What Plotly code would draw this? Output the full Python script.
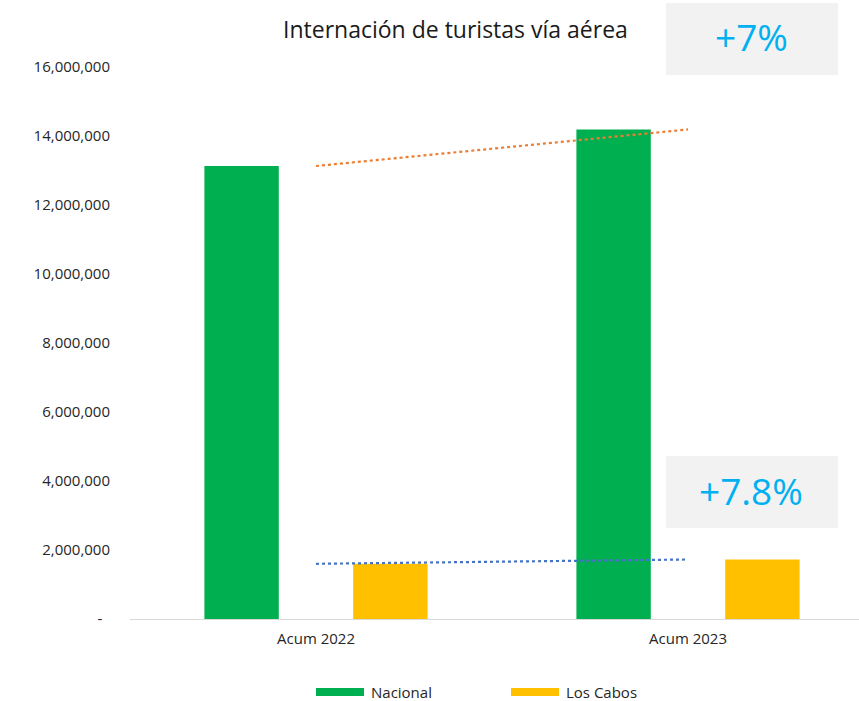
import plotly.graph_objects as go

categories = ["Acum 2022", "Acum 2023"]
nacional = [13130000, 14190000]
los_cabos = [1600000, 1725000]
series_names = ["Nacional", "Los Cabos"]
tick_values = [0, 2000000, 4000000, 6000000, 8000000, 10000000, 12000000, 14000000, 16000000]
tick_labels = ["-\u00a0\u00a0", "2,000,000", "4,000,000", "6,000,000", "8,000,000", "10,000,000",
               "12,000,000", "14,000,000", "16,000,000"]
growth_labels = ["+7%", "+7.8%"]

W, H = 859, 701
L, R, T, B = 130, 0, 67, 82
PW, PH = W - L - R, H - T - B

def px(x):
    return (x - L) / PW

def py(y):
    return (H - B - y) / PH

GREEN = "#00B050"
YELLOW = "#FFC000"
FONT = "Open Sans"
TXT = "#262626"

fig = go.Figure()
fig.add_trace(go.Bar(x=categories, y=nacional, name=series_names[0],
                     marker=dict(color=GREEN, line=dict(width=0)), showlegend=False))
fig.add_trace(go.Bar(x=categories, y=los_cabos, name=series_names[1],
                     marker=dict(color=YELLOW, line=dict(width=0)), showlegend=False))
fig.add_trace(go.Scatter(x=categories, y=nacional, mode="lines", showlegend=False,
                         line=dict(color="#ED7D31", width=2.2, dash="dot"), hoverinfo="skip"))
fig.add_trace(go.Scatter(x=categories, y=los_cabos, mode="lines", showlegend=False,
                         line=dict(color="#4472C4", width=2.2, dash="dot"), hoverinfo="skip"))

cat_w = 372.0
fig.update_layout(
    width=W, height=H,
    margin=dict(l=L, r=R, t=T, b=B, pad=0),
    paper_bgcolor="white", plot_bgcolor="white",
    barmode="group", bargap=0.2, bargroupgap=0.5,
    font=dict(family=FONT, size=15, color=TXT),
    showlegend=False,
    xaxis=dict(type="category", range=[-0.5, -0.5 + PW / cat_w], showgrid=False,
               showline=True, linecolor="#D9D9D9", linewidth=1, ticks="",
               tickfont=dict(size=15, color=TXT), ticklabelstandoff=6, zeroline=False),
    yaxis=dict(range=[0, 16000000], tickvals=tick_values, ticktext=tick_labels,
               showgrid=False, zeroline=False, showline=False, ticks="",
               tickfont=dict(size=15, color=TXT), ticklabelstandoff=19),
)

shapes = []
annotations = []
# title
annotations.append(dict(text="Internación de turistas vía aérea", x=px(455), y=py(29),
                        xref="paper", yref="paper", showarrow=False, xanchor="center",
                        yanchor="middle", font=dict(family=FONT, size=23, color="#1a1a1a")))
# growth boxes
for label, (y0, y1) in zip(growth_labels, [(3, 75), (456, 528)]):
    shapes.append(dict(type="rect", xref="paper", yref="paper", x0=px(666), x1=px(838),
                       y0=py(y1), y1=py(y0), fillcolor="#F2F2F2", line=dict(width=0), layer="below"))
    annotations.append(dict(text=label, x=px(751), y=py((y0 + y1) / 2 - 2), xref="paper", yref="paper",
                            showarrow=False, xanchor="center", yanchor="middle",
                            font=dict(family=FONT, size=37, color="#00B0F0")))
# legend
for name, color, x0 in zip(series_names, [GREEN, YELLOW], [316, 511]):
    shapes.append(dict(type="rect", xref="paper", yref="paper", x0=px(x0), x1=px(x0 + 48),
                       y0=py(696), y1=py(688), fillcolor=color, line=dict(width=0)))
    annotations.append(dict(text=name, x=px(x0 + 53), y=py(692), xref="paper", yref="paper",
                            showarrow=False, xanchor="left", yanchor="middle",
                            font=dict(family=FONT, size=15, color=TXT)))
fig.update_layout(shapes=shapes, annotations=annotations)
fig.write_html("out.html", config={"displayModeBar": False},
               post_script="document.body.style.margin='0';document.body.style.overflow='hidden';")
